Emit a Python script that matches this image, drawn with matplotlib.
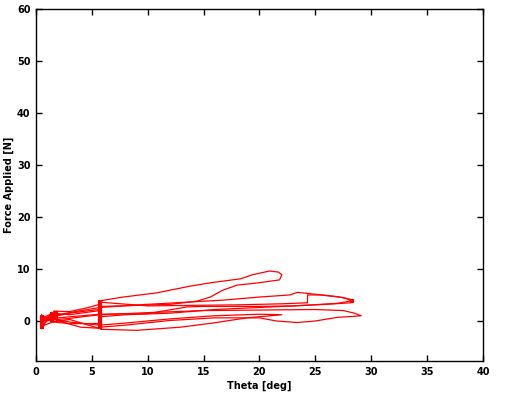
import matplotlib
matplotlib.use('Agg')
import matplotlib.pyplot as plt

# ciclos de carga (theta [deg], fuerza [N])
theta_a = [0.5, 1.5, 1.6, 3.0, 4.5, 5.7, 5.8, 7.8, 10.8, 13.8, 15.8, 18.3, 19.4, 20.9, 21.7, 22.0, 21.8,
           19.8, 18.0, 16.7, 15.6, 14.4, 12.0, 9.0, 5.8, 5.6, 3.0, 1.5, 0.5]
force_a = [0.3, 1.2, 1.9, 1.8, 2.5, 3.2, 3.9, 4.6, 5.4, 6.7, 7.4, 8.1, 8.9, 9.6, 9.4, 8.9, 7.9,
           7.3, 6.9, 5.9, 4.6, 3.8, 3.2, 3.0, 2.8, 2.2, 1.5, 0.8, 0.0]

theta_b = [0.5, 1.5, 3.0, 5.7, 10.0, 16.7, 20.0, 22.7, 23.4, 26.9, 28.1, 28.3, 28.2, 26.0, 23.0,
           20.0, 15.0, 13.5, 10.0, 5.7, 3.0, 1.5, 0.5]
force_b = [0.0, 1.0, 1.6, 2.6, 3.2, 4.0, 4.6, 5.0, 5.5, 4.7, 4.2, 3.9, 3.5, 3.2, 2.9,
           2.8, 2.8, 2.7, 1.4, 1.3, 0.8, 0.5, -0.5]

theta_c = [0.5, 1.5, 3.0, 5.7, 10.0, 15.0, 20.0, 25.0, 27.5, 28.5, 29.1, 28.5, 27.0, 25.0, 23.4,
           21.5, 20.0, 16.0, 12.0, 8.0, 5.7, 5.6, 3.0, 1.5, 0.5]
force_c = [0.0, 0.2, 0.5, 1.2, 1.6, 2.0, 2.1, 2.2, 2.0, 1.5, 1.0, 0.9, 0.7, 0.0, -0.3,
           0.0, 0.6, 0.6, 0.1, -0.8, -1.2, -0.5, -0.5, -0.2, -1.0]

theta_d = [0.5, 1.5, 2.5, 4.0, 5.7, 5.8, 9.0, 12.9, 15.8, 18.9, 21.0, 22.0, 20.0, 16.0, 12.0,
           8.0, 5.7, 3.0, 1.5, 0.5]
force_d = [0.0, 0.5, -0.3, -1.2, -1.4, -1.6, -1.8, -1.2, -0.4, 0.6, 1.0, 1.2, 1.3, 1.0, 0.4,
           -0.4, -0.8, -0.2, 0.3, 1.0]

theta_e = [0.5, 1.5, 3.0, 5.7, 5.8, 10.0, 14.0, 18.0, 22.0, 24.3, 24.3, 25.5, 27.5, 28.3, 27.0,
           24.0, 20.0, 16.0, 12.0, 8.0, 5.7, 5.6, 3.0, 1.5, 1.4, 0.5, 0.5]
force_e = [0.5, 1.5, 1.2, 2.0, 3.6, 2.9, 3.0, 3.1, 3.3, 3.5, 5.0, 5.0, 4.5, 3.9, 3.4,
           3.0, 2.6, 2.2, 1.5, 1.2, 0.8, -1.4, 0.3, -0.2, 1.6, -1.5, 1.2]

# zonas donde el registro se queda parado (theta fijo, fuerza varia)
stall_theta = [0.5, 1.4, 1.8, 5.7, 28.3]
stall_lo = [-1.6, -0.2, 0.3, -1.6, 3.4]
stall_hi = [1.2, 1.8, 2.0, 4.0, 4.2]

fig = plt.figure(figsize=(5.11, 4.05), dpi=100)
ax = fig.add_axes([0.0705, 0.1086, 0.8745, 0.8694])

for th, f in [(theta_a, force_a), (theta_b, force_b), (theta_c, force_c),
              (theta_d, force_d), (theta_e, force_e)]:
    ax.plot(th, f, color='red', linewidth=0.9)

ax.vlines(stall_theta, stall_lo, stall_hi, color='red', linewidth=3)

ax.set_xlim(0, 40)
ax.set_ylim(-7.7, 60)
ax.set_xticks(range(0, 41, 5))
ax.set_yticks(range(0, 61, 10))
ax.tick_params(direction='in', length=4, width=1, top=True, right=True,
               labelsize=7, pad=4)
for lab in ax.get_xticklabels() + ax.get_yticklabels():
    lab.set_fontweight('bold')
for s in ax.spines.values():
    s.set_linewidth(1)

ax.set_xlabel('Theta [deg]', fontsize=7, fontweight='bold', labelpad=3)
ax.set_ylabel('Force Applied [N]', fontsize=7, fontweight='bold', labelpad=2)

fig.savefig('out.png', dpi=100)
